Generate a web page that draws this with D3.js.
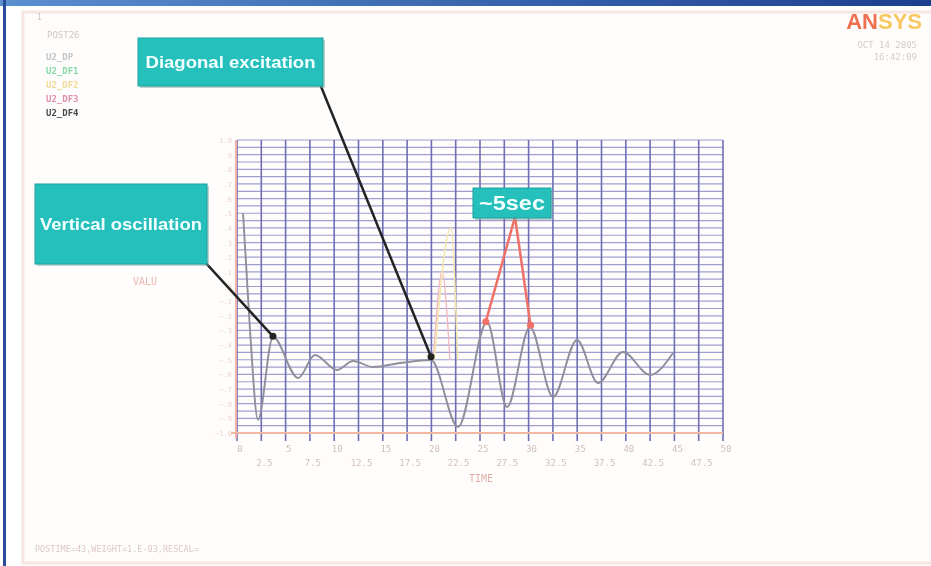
<!DOCTYPE html>
<html>
<head>
<meta charset="utf-8">
<script src="https://cdn.jsdelivr.net/npm/d3@7"></script>
<style>
  body { margin: 0; background: #fff; }
  svg { display: block; }
</style>
</head>
<body>
<script>
const WIDTH = 931
const HEIGHT = 566

// U2_DP trace (time, value)
const time = [0.62, 1.34, 2.16, 3.7, 6.28, 8.02, 10.29, 11.93, 13.99, 16.77, 19.96, 22.74, 25.72, 27.78, 30.14, 32.51, 34.98, 37.14, 39.71, 42.49, 44.86]
const valu = [0.5, -0.3, -0.91, -0.345, -0.625, -0.468, -0.57, -0.509, -0.549, -0.522, -0.502, -0.959, -0.242, -0.823, -0.276, -0.754, -0.365, -0.659, -0.447, -0.604, -0.454]

// faint spikes of the other traces
const df2Time = [20.3, 22.0, 22.7]
const df2Valu = [-0.5, 0.4, -0.5]
const df3Time = [20.2, 21.1, 21.9]
const df3Valu = [-0.5, 0.1, -0.5]

const legendNames = ["U2_DP", "U2_DF1", "U2_DF2", "U2_DF3", "U2_DF4"]
const legendColours = ["#c4c4c4", "#86d8a4", "#f0dc98", "#e090ac", "#4a4a4a"]

const xMajor = [0, 5, 10, 15, 20, 25, 30, 35, 40, 45, 50]
const xMinor = [2.5, 7.5, 12.5, 17.5, 22.5, 27.5, 32.5, 37.5, 42.5, 47.5]

const PLOT = { left: 237, right: 723, top: 140, bottom: 433 }

const svg = d3.select("body").append("svg")
    .attr("width", WIDTH)
    .attr("height", HEIGHT)

const defs = svg.append("defs")
const topGrad = defs.append("linearGradient").attr("id", "topbar")
topGrad.append("stop").attr("offset", "0%").attr("stop-color", "#5a8fd0")
topGrad.append("stop").attr("offset", "100%").attr("stop-color", "#1c3f8f")
defs.append("filter").attr("id", "soft")
    .append("feGaussianBlur").attr("stdDeviation", 0.55)

// window frame
svg.append("rect").attr("width", WIDTH).attr("height", HEIGHT).attr("fill", "#ffffff")
svg.append("rect").attr("width", WIDTH).attr("height", 6).attr("fill", "url(#topbar)")
svg.append("rect").attr("x", 3).attr("y", 0).attr("width", 3).attr("height", HEIGHT).attr("fill", "#2a4a9a")
svg.append("rect")
    .attr("x", 23).attr("y", 12).attr("width", 920).attr("height", 551)
    .attr("fill", "#fffdfc").attr("stroke", "#f6e6df").attr("stroke-width", 3)

const g = svg.append("g").attr("filter", "url(#soft)")

const x = d3.scaleLinear().domain([0, 50]).range([PLOT.left, PLOT.right])
const y = d3.scaleLinear().domain([-1, 1]).range([PLOT.bottom, PLOT.top])

// grid
g.selectAll(".hgrid")
    .data(d3.range(-1, 1.0001, 0.05))
    .enter().append("line")
    .attr("x1", PLOT.left).attr("x2", PLOT.right)
    .attr("y1", d => y(d)).attr("y2", d => y(d))
    .attr("stroke", "#8e8ec8").attr("stroke-width", 1.2).attr("opacity", 0.85)
g.selectAll(".vgrid")
    .data(d3.range(0, 50.001, 2.5))
    .enter().append("line")
    .attr("x1", d => x(d)).attr("x2", d => x(d))
    .attr("y1", PLOT.top).attr("y2", PLOT.bottom + 8)
    .attr("stroke", "#6e6eb4").attr("stroke-width", 1.6)

// axes lines
g.append("line")
    .attr("x1", PLOT.left - 6).attr("x2", PLOT.right)
    .attr("y1", PLOT.bottom).attr("y2", PLOT.bottom)
    .attr("stroke", "#f0b8a0").attr("stroke-width", 2)
g.append("line")
    .attr("x1", PLOT.left - 1).attr("x2", PLOT.left - 1)
    .attr("y1", PLOT.top).attr("y2", PLOT.bottom + 6)
    .attr("stroke", "#f0b0a8").attr("stroke-width", 2)

// y labels (faint)
g.selectAll(".ylab")
    .data(d3.range(-1, 1.0001, 0.1))
    .enter().append("text")
    .attr("x", PLOT.left - 5).attr("y", d => y(d) + 3)
    .attr("text-anchor", "end")
    .attr("font-family", "DejaVu Sans Mono").attr("font-size", 7)
    .attr("fill", "#ecd2ca")
    .text(d => d3.format(".1f")(d).replace("0.", "."))

// x labels
const labFont = "DejaVu Sans Mono"
g.selectAll(".xmaj")
    .data(xMajor).enter().append("text")
    .attr("x", d => x(d) + 3).attr("y", 452)
    .attr("text-anchor", "middle")
    .attr("font-family", labFont).attr("font-size", 9)
    .attr("fill", "#cfc0bc")
    .text(d => d)
g.selectAll(".xmin")
    .data(xMinor).enter().append("text")
    .attr("x", d => x(d) + 3).attr("y", 466)
    .attr("text-anchor", "middle")
    .attr("font-family", labFont).attr("font-size", 9)
    .attr("fill", "#cfc0bc")
    .text(d => d)
g.append("text")
    .attr("x", 481).attr("y", 482)
    .attr("text-anchor", "middle")
    .attr("font-family", labFont).attr("font-size", 10)
    .attr("fill", "#e0b0a8")
    .text("TIME")
g.append("text")
    .attr("x", 145).attr("y", 285)
    .attr("text-anchor", "middle")
    .attr("font-family", labFont).attr("font-size", 10)
    .attr("fill", "#eab8b0")
    .text("VALU")

// traces
const line = d3.line()
    .x(d => x(d[0]))
    .y(d => y(d[1]))
    .curve(d3.curveMonotoneX)

g.append("path")
    .datum(d3.zip(df3Time, df3Valu))
    .attr("d", line)
    .attr("fill", "none").attr("stroke", "#f0b8c0").attr("stroke-width", 1.3)
g.append("path")
    .datum(d3.zip(df2Time, df2Valu))
    .attr("d", line)
    .attr("fill", "none").attr("stroke", "#f3e6a8").attr("stroke-width", 1.5)
g.append("path")
    .datum(d3.zip(time, valu))
    .attr("d", line)
    .attr("fill", "none").attr("stroke", "#8e8e9c").attr("stroke-width", 1.9)

// legend
const legendFont = "DejaVu Sans Mono"
g.append("text").attr("x", 37).attr("y", 20)
    .attr("font-family", legendFont).attr("font-size", 8).attr("fill", "#c8c0bc").text("1")
g.append("text").attr("x", 47).attr("y", 38)
    .attr("font-family", legendFont).attr("font-size", 9).attr("fill", "#cfc6c2").text("POST26")
g.selectAll(".legend")
    .data(legendNames).enter().append("text")
    .attr("x", 46).attr("y", (_, i) => 60 + i * 14)
    .attr("font-family", legendFont).attr("font-size", 9)
    .attr("font-weight", "bold")
    .attr("fill", (_, i) => legendColours[i])
    .text(d => d)

// ANSYS logo + date
const logo = g.append("text")
    .attr("x", 922).attr("y", 29)
    .attr("text-anchor", "end")
    .attr("font-family", "Liberation Sans").attr("font-weight", "bold")
    .attr("font-size", 22)
logo.append("tspan").attr("fill", "#ee7050").text("AN")
logo.append("tspan").attr("fill", "#f8c860").text("SYS")
g.append("text").attr("x", 917).attr("y", 48)
    .attr("text-anchor", "end")
    .attr("font-family", legendFont).attr("font-size", 9).attr("fill", "#d4ccc8")
    .text("OCT 14 2005")
g.append("text").attr("x", 917).attr("y", 60)
    .attr("text-anchor", "end")
    .attr("font-family", legendFont).attr("font-size", 9).attr("fill", "#d4ccc8")
    .text("16:42:09")

// footer
g.append("text").attr("x", 35).attr("y", 552)
    .attr("font-family", legendFont).attr("font-size", 8.5).attr("fill", "#dccac6")
    .text("POSTIME=43,WEIGHT=1.E-03,RESCAL=")

// annotations
const TEAL = "#27c0bc"
function callout(bx, by, bw, bh, label, fs, tw) {
    g.append("rect")
        .attr("x", bx + 2).attr("y", by + 2).attr("width", bw).attr("height", bh)
        .attr("fill", "#7fa8a6").attr("opacity", 0.5)
    g.append("rect")
        .attr("x", bx).attr("y", by).attr("width", bw).attr("height", bh)
        .attr("fill", TEAL).attr("stroke", "#1aa29e").attr("stroke-width", 1)
    g.append("text")
        .attr("x", bx + bw / 2).attr("y", by + bh / 2 + fs * 0.36)
        .attr("text-anchor", "middle")
        .attr("font-family", "Liberation Sans").attr("font-weight", "bold")
        .attr("font-size", fs).attr("fill", "#f4ffff")
        .attr("textLength", tw).attr("lengthAdjust", "spacingAndGlyphs")
        .text(label)
}

function pointer(x1, y1, t, v, colour) {
    g.append("line")
        .attr("x1", x1).attr("y1", y1)
        .attr("x2", x(t)).attr("y2", y(v))
        .attr("stroke", colour).attr("stroke-width", 2.5)
    g.append("circle")
        .attr("cx", x(t)).attr("cy", y(v)).attr("r", 3.5)
        .attr("fill", colour)
}

pointer(320, 84, 19.96, -0.48, "#222222")
pointer(204, 261, 3.7, -0.34, "#222222")
pointer(515, 217, 25.6, -0.24, "#f07068")
pointer(515, 217, 30.2, -0.265, "#f07068")

callout(138, 38, 185, 48, "Diagonal excitation", 16, 170)
callout(35, 184, 172, 80, "Vertical oscillation", 16, 162)
callout(473, 188, 78, 30, "~5sec", 20, 66)
</script>
</body>
</html>
